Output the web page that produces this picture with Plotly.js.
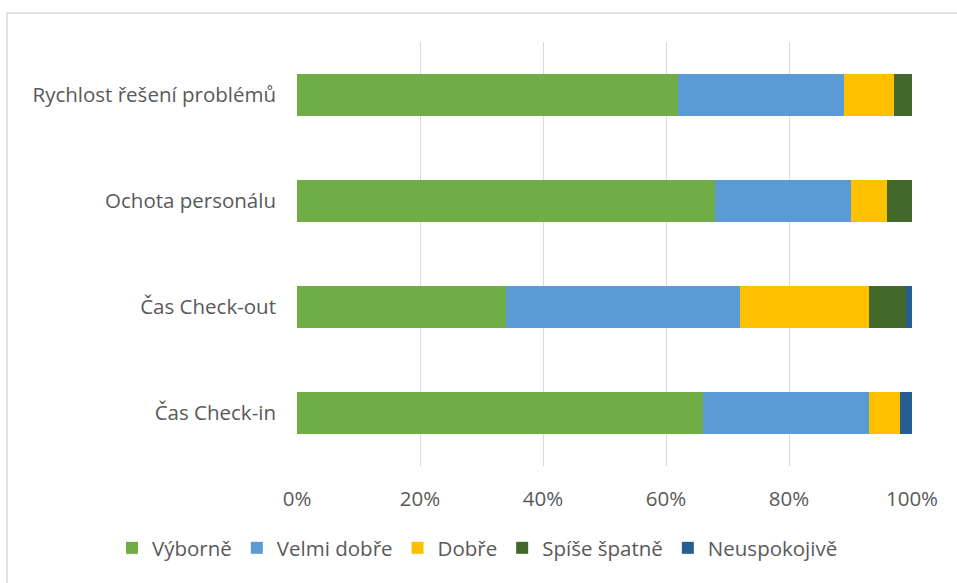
<!DOCTYPE html>
<html>
<head>
<meta charset="utf-8">
<script src="https://cdn.plot.ly/plotly-3.0.1.min.js"></script>
<style>
  html, body { margin: 0; padding: 0; background: #fff; }
  #chart { width: 957px; height: 583px; }
</style>
</head>
<body>
<div id="chart"></div>
<script>
const categories = ["Čas Check-in", "Čas Check-out", "Ochota personálu", "Rychlost řešení problémů"];
const seriesNames = ["Výborně", "Velmi dobře", "Dobře", "Spíše špatně", "Neuspokojivě"];
const vyborne      = [66, 34, 68, 62];
const velmiDobre   = [27, 38, 22, 27];
const dobre        = [5, 21, 6, 8];
const spiseSpatne  = [0, 6, 4, 3];
const neuspokojive = [2, 1, 0, 0];
const xTickValues = [0, 20, 40, 60, 80, 100];
const xTickLabels = ["0%", "20%", "40%", "60%", "80%", "100%"];

const seriesValues = [vyborne, velmiDobre, dobre, spiseSpatne, neuspokojive];
const colors = ["#70AD47", "#5B9BD5", "#FFC000", "#43682B", "#255E91"];

const traces = seriesNames.map((name, i) => ({
  type: "bar",
  orientation: "h",
  name: name,
  y: categories,
  x: seriesValues[i],
  marker: { color: colors[i], line: { width: 0 } },
  hoverinfo: "name+x"
}));

const W = 957, H = 583;
const L = 297, R = 45, T = 42, B = 117;
const pw = W - L - R, ph = H - T - B;

const layout = {
  width: W, height: H,
  margin: { l: L, r: R, t: T, b: B, pad: 0 },
  paper_bgcolor: "#ffffff",
  plot_bgcolor: "#ffffff",
  barmode: "stack",
  bargap: 0.6,
  font: { family: "'Open Sans', sans-serif", size: 20.5, color: "#595959" },
  showlegend: true,
  legend: {
    orientation: "h",
    xref: "paper", yref: "paper",
    x: (112 - L) / pw, xanchor: "left",
    y: 1 - (548 - T) / ph, yanchor: "middle",
    font: { size: 20.5, color: "#595959" },
    traceorder: "normal",
    itemclick: false
  },
  xaxis: {
    range: [0, 100],
    tickvals: xTickValues,
    ticktext: xTickLabels,
    showgrid: true,
    gridcolor: "#D9D9D9",
    gridwidth: 1,
    zeroline: false,
    showline: false,
    ticks: "",
    ticklabelstandoff: 18,
    fixedrange: true
  },
  yaxis: {
    categoryorder: "array",
    categoryarray: categories,
    showgrid: false,
    zeroline: false,
    showline: false,
    ticks: "",
    ticklabelstandoff: 20,
    fixedrange: true
  },
  shapes: [{
    type: "rect",
    xref: "paper", yref: "paper",
    x0: (7 - L) / pw, x1: (W + 20 - L) / pw,
    y0: 1 - (H + 20 - T) / ph, y1: 1 - (13 - T) / ph,
    line: { color: "#D9D9D9", width: 1.5 },
    fillcolor: "rgba(0,0,0,0)",
    layer: "below"
  }]
};

Plotly.newPlot("chart", traces, layout, { displayModeBar: false, staticPlot: true });
</script>
</body>
</html>
